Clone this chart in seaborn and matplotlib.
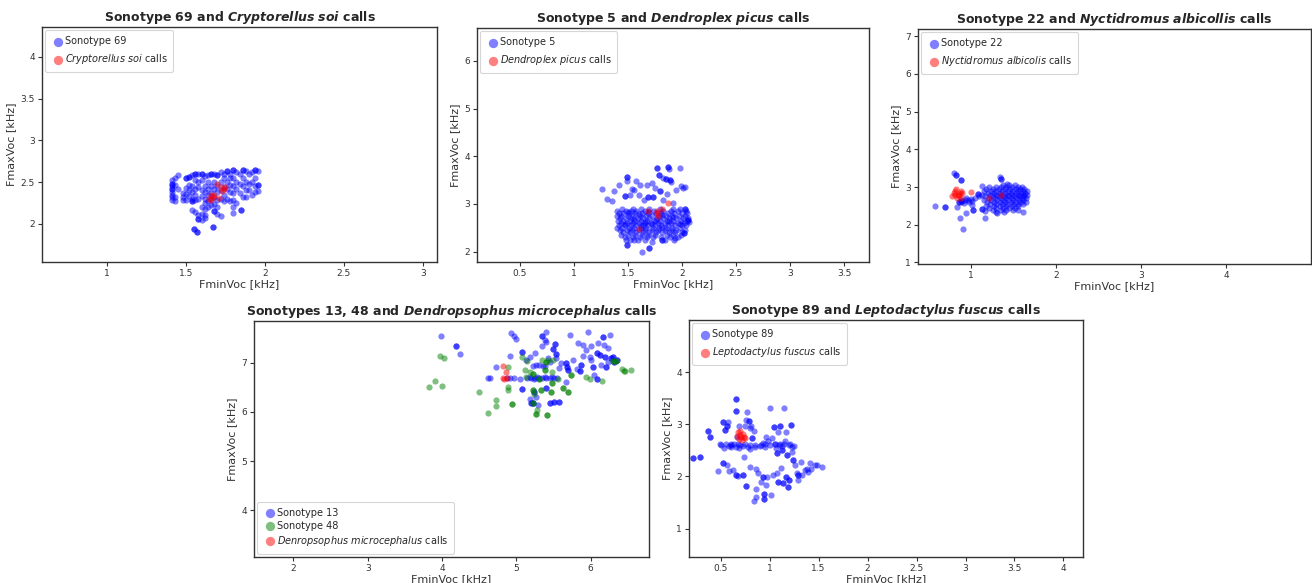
import numpy as np
import matplotlib
matplotlib.use("Agg")
import matplotlib.pyplot as plt
import seaborn as sns

# ---------------- data (FminVoc, FmaxVoc) in kHz ----------------
sono69 = [
    (1.41, 2.52), (1.41, 2.48), (1.41, 2.48), (1.41, 2.45), (1.41, 2.42), (1.41, 2.42), (1.41, 2.38), (1.41, 2.35), (1.41, 2.32), (1.41, 2.28),
    (1.43, 2.55), (1.43, 2.47), (1.43, 2.32), (1.43, 2.27), (1.45, 2.58), (1.45, 2.42),
    (1.48, 2.37), (1.48, 2.32), (1.48, 2.28), (1.50, 2.55), (1.50, 2.55), (1.50, 2.43), (1.50, 2.36), (1.50, 2.28),
    (1.52, 2.56), (1.52, 2.56), (1.52, 2.47), (1.52, 2.40), (1.52, 2.33),
    (1.54, 2.58), (1.54, 2.45), (1.54, 2.38), (1.54, 2.30), (1.54, 2.27), (1.54, 2.27), (1.54, 2.16),
    (1.56, 2.60), (1.56, 2.60), (1.56, 2.52), (1.56, 2.42), (1.56, 2.35), (1.56, 2.28), (1.56, 2.14),
    (1.58, 2.60), (1.58, 2.50), (1.58, 2.44), (1.58, 2.30), (1.58, 2.10), (1.58, 2.06), (1.58, 2.06),
    (1.60, 2.60), (1.60, 2.60), (1.60, 2.52), (1.60, 2.40), (1.60, 2.33), (1.60, 2.20), (1.60, 2.12), (1.60, 2.05),
    (1.62, 2.57), (1.62, 2.45), (1.62, 2.38), (1.62, 2.30), (1.62, 2.25), (1.62, 2.18), (1.62, 2.10), (1.62, 2.07),
    (1.64, 2.58), (1.64, 2.50), (1.64, 2.42), (1.64, 2.35), (1.64, 2.27), (1.64, 2.20),
    (1.66, 2.60), (1.66, 2.60), (1.66, 2.45), (1.66, 2.37), (1.66, 2.30), (1.66, 2.22),
    (1.68, 2.60), (1.68, 2.50), (1.68, 2.42), (1.68, 2.32), (1.68, 2.24), (1.68, 2.15), (1.68, 2.15),
    (1.70, 2.58), (1.70, 2.58), (1.70, 2.45), (1.70, 2.38), (1.70, 2.28), (1.70, 2.20), (1.70, 2.12),
    (1.72, 2.62), (1.72, 2.50), (1.72, 2.40), (1.72, 2.30), (1.72, 2.09),
    (1.74, 2.60), (1.74, 2.55), (1.74, 2.44), (1.74, 2.35), (1.74, 2.27),
    (1.76, 2.63), (1.76, 2.63), (1.76, 2.50), (1.76, 2.42), (1.76, 2.30),
    (1.78, 2.60), (1.78, 2.55), (1.78, 2.47), (1.78, 2.38), (1.78, 2.27),
    (1.80, 2.65), (1.80, 2.65), (1.80, 2.55), (1.80, 2.45), (1.80, 2.37), (1.80, 2.28), (1.80, 2.20), (1.80, 2.13),
    (1.82, 2.62), (1.82, 2.50), (1.82, 2.42), (1.82, 2.25), (1.84, 2.60), (1.84, 2.48), (1.84, 2.37),
    (1.86, 2.65), (1.86, 2.65), (1.86, 2.55), (1.86, 2.45), (1.86, 2.32), (1.88, 2.63), (1.88, 2.50), (1.88, 2.40), (1.88, 2.32),
    (1.90, 2.60), (1.90, 2.48), (1.90, 2.40), (1.92, 2.62), (1.92, 2.50), (1.92, 2.35),
    (1.94, 2.65), (1.94, 2.65), (1.94, 2.55), (1.94, 2.45), (1.94, 2.38), (1.96, 2.63), (1.96, 2.46), (1.96, 2.46), (1.96, 2.39),
    (1.55, 1.94), (1.55, 1.94), (1.57, 1.90), (1.57, 1.90), (1.67, 1.96), (1.67, 1.96), (1.85, 2.17), (1.85, 2.17),
]
cryptorellus = [
    (1.70, 2.48), (1.72, 2.44), (1.74, 2.42), (1.73, 2.39), (1.75, 2.44), (1.66, 2.35),
    (1.67, 2.32), (1.65, 2.30), (1.68, 2.34), (1.71, 2.31), (1.66, 2.29),
]

sono5 = [
    (1.26, 3.31), (1.31, 3.10), (1.35, 3.05), (1.37, 3.28), (1.42, 3.40), (1.49, 3.56), (1.49, 3.56), (1.49, 3.47),
    (1.47, 3.17), (1.47, 3.17), (1.52, 3.19), (1.54, 3.31), (1.56, 3.29), (1.58, 3.47), (1.60, 3.19), (1.61, 3.40),
    (1.65, 3.08), (1.68, 3.40), (1.69, 3.15), (1.69, 3.15), (1.72, 3.43), (1.73, 3.14), (1.73, 3.14), (1.75, 3.33),
    (1.77, 3.75), (1.77, 3.75), (1.79, 3.61), (1.79, 3.61), (1.80, 3.28), (1.80, 3.28), (1.83, 3.55), (1.85, 3.52),
    (1.85, 3.52), (1.87, 3.77), (1.87, 3.77), (1.88, 3.73), (1.89, 3.50), (1.89, 3.50), (1.90, 3.45), (1.92, 3.01),
    (1.95, 3.29), (1.98, 3.75), (1.99, 3.38), (2.01, 3.33), (2.03, 3.36), (1.86, 3.21), (1.83, 3.08),
    (2.03, 2.89), (2.03, 2.89), (2.02, 2.38), (2.02, 2.38), (2.06, 2.66), (2.06, 2.66), (2.07, 2.62),
    (1.49, 2.14), (1.49, 2.14), (1.63, 2.00), (1.70, 2.07), (1.70, 2.07), (1.72, 2.21), (1.82, 2.24), (1.82, 2.24),
    (1.56, 2.24), (1.48, 2.24), (1.94, 2.28),
    (1.45, 2.90), (1.55, 2.90), (1.62, 2.90), (1.70, 2.90), (1.80, 2.90), (1.92, 2.90), (1.98, 2.90),
    (1.40, 2.85), (1.48, 2.85), (1.53, 2.85), (1.58, 2.85), (1.66, 2.85), (1.74, 2.85), (1.83, 2.85), (1.90, 2.85), (1.96, 2.85), (2.04, 2.85),
    (1.42, 2.80), (1.46, 2.80), (1.51, 2.80), (1.57, 2.80), (1.63, 2.80), (1.69, 2.80), (1.76, 2.80), (1.81, 2.80), (1.87, 2.80), (1.93, 2.80), (2.00, 2.80), (2.05, 2.80),
    (1.40, 2.75), (1.44, 2.75), (1.50, 2.75), (1.55, 2.75), (1.61, 2.75), (1.67, 2.75), (1.72, 2.75), (1.79, 2.75), (1.85, 2.75), (1.91, 2.75), (1.97, 2.75), (2.03, 2.75),
    (1.43, 2.70), (1.48, 2.70), (1.53, 2.70), (1.59, 2.70), (1.64, 2.70), (1.70, 2.70), (1.77, 2.70), (1.83, 2.70), (1.88, 2.70), (1.95, 2.70), (2.01, 2.70), (2.06, 2.70),
    (1.41, 2.65), (1.46, 2.65), (1.52, 2.65), (1.57, 2.65), (1.62, 2.65), (1.68, 2.65), (1.74, 2.65), (1.80, 2.65), (1.86, 2.65), (1.92, 2.65), (1.99, 2.65), (2.05, 2.65),
    (1.44, 2.60), (1.49, 2.60), (1.55, 2.60), (1.60, 2.60), (1.66, 2.60), (1.71, 2.60), (1.78, 2.60), (1.84, 2.60), (1.90, 2.60), (1.96, 2.60), (2.02, 2.60),
    (1.42, 2.55), (1.47, 2.55), (1.53, 2.55), (1.58, 2.55), (1.64, 2.55), (1.69, 2.55), (1.75, 2.55), (1.81, 2.55), (1.87, 2.55), (1.94, 2.55), (2.00, 2.55), (2.04, 2.55),
    (1.40, 2.50), (1.45, 2.50), (1.51, 2.50), (1.56, 2.50), (1.62, 2.50), (1.67, 2.50), (1.73, 2.50), (1.79, 2.50), (1.85, 2.50), (1.91, 2.50), (1.98, 2.50),
    (1.43, 2.45), (1.49, 2.45), (1.54, 2.45), (1.60, 2.45), (1.66, 2.45), (1.72, 2.45), (1.78, 2.45), (1.84, 2.45), (1.90, 2.45), (1.95, 2.45), (2.03, 2.45),
    (1.46, 2.40), (1.52, 2.40), (1.58, 2.40), (1.64, 2.40), (1.70, 2.40), (1.76, 2.40), (1.82, 2.40), (1.88, 2.40), (1.94, 2.40), (2.00, 2.40),
    (1.44, 2.35), (1.50, 2.35), (1.57, 2.35), (1.63, 2.35), (1.69, 2.35), (1.75, 2.35), (1.86, 2.35), (1.92, 2.35), (1.99, 2.35),
    (1.47, 2.30), (1.55, 2.30), (1.61, 2.30), (1.68, 2.30), (1.73, 2.30), (1.81, 2.30), (1.89, 2.30), (1.96, 2.30),
    (1.52, 2.25), (1.59, 2.25), (1.66, 2.25), (1.84, 2.25), (1.93, 2.25),
    (1.50, 2.82), (1.60, 2.78), (1.70, 2.83), (1.82, 2.77), (1.92, 2.73), (1.56, 2.68), (1.66, 2.62),
    (1.76, 2.67), (1.88, 2.63), (1.98, 2.58), (1.47, 2.58), (1.62, 2.53), (1.72, 2.57), (1.82, 2.52),
]
dendroplex = [(1.60, 2.48), (1.69, 2.85), (1.77, 2.80), (1.78, 2.75), (1.77, 2.85), (1.82, 2.90), (1.87, 3.02)]

sono22 = [
    (0.58, 2.50), (0.70, 2.48), (0.70, 2.48), (0.80, 3.36), (0.83, 3.33), (0.83, 3.33), (0.89, 3.20), (0.89, 3.20),
    (0.87, 2.17), (0.91, 1.89), (0.94, 2.30), (0.86, 2.61), (0.84, 2.48), (0.89, 2.65), (0.95, 2.70), (1.00, 2.68),
    (1.01, 2.52), (1.03, 2.39), (1.03, 2.39), (1.08, 2.81), (1.08, 2.81), (1.13, 3.02), (1.13, 2.43), (1.13, 2.43),
    (1.17, 2.17), (1.17, 2.37), (1.34, 3.27), (1.36, 3.22), (1.36, 3.22), (1.43, 3.09), (1.31, 2.30), (1.62, 2.34), (1.56, 2.40),
    (0.86, 2.61), (0.88, 2.60), (0.90, 2.63), (0.93, 2.65), (0.97, 2.66), (1.02, 2.62), (0.92, 2.58),
    (0.98, 2.60), (1.05, 2.70), (1.10, 2.75),
    (1.38, 3.05), (1.45, 3.05), (1.52, 3.05),
    (1.22, 3.00), (1.30, 3.00), (1.36, 3.00), (1.42, 3.00), (1.49, 3.00), (1.55, 3.00), (1.60, 3.00),
    (1.18, 2.95), (1.26, 2.95), (1.33, 2.95), (1.40, 2.95), (1.46, 2.95), (1.53, 2.95), (1.58, 2.95), (1.63, 2.95),
    (1.15, 2.90), (1.24, 2.90), (1.30, 2.90), (1.37, 2.90), (1.44, 2.90), (1.50, 2.90), (1.56, 2.90), (1.62, 2.90), (1.66, 2.90),
    (1.20, 2.85), (1.27, 2.85), (1.34, 2.85), (1.40, 2.85), (1.47, 2.85), (1.53, 2.85), (1.59, 2.85), (1.64, 2.85),
    (1.13, 2.80), (1.23, 2.80), (1.30, 2.80), (1.36, 2.80), (1.43, 2.80), (1.49, 2.80), (1.55, 2.80), (1.61, 2.80), (1.66, 2.80),
    (1.17, 2.75), (1.26, 2.75), (1.33, 2.75), (1.39, 2.75), (1.45, 2.75), (1.52, 2.75), (1.58, 2.75), (1.63, 2.75),
    (1.21, 2.70), (1.29, 2.70), (1.35, 2.70), (1.41, 2.70), (1.48, 2.70), (1.54, 2.70), (1.60, 2.70), (1.65, 2.70),
    (1.15, 2.65), (1.24, 2.65), (1.31, 2.65), (1.38, 2.65), (1.44, 2.65), (1.50, 2.65), (1.57, 2.65), (1.62, 2.65),
    (1.19, 2.60), (1.27, 2.60), (1.34, 2.60), (1.40, 2.60), (1.47, 2.60), (1.53, 2.60), (1.59, 2.60), (1.65, 2.60),
    (1.23, 2.55), (1.30, 2.55), (1.37, 2.55), (1.43, 2.55), (1.50, 2.55), (1.56, 2.55), (1.62, 2.55),
    (1.18, 2.50), (1.27, 2.50), (1.34, 2.50), (1.41, 2.50), (1.48, 2.50), (1.55, 2.50),
    (1.22, 2.45), (1.30, 2.45), (1.38, 2.45), (1.45, 2.45), (1.52, 2.45),
    (1.26, 2.40), (1.35, 2.40), (1.42, 2.40), (1.50, 2.40), (1.30, 2.35), (1.39, 2.35),
]
nyctidromus = [
    (0.78, 2.75), (0.80, 2.85), (0.82, 2.90), (0.83, 2.95), (0.85, 2.80), (0.86, 2.78), (0.88, 2.72),
    (0.84, 2.70), (0.90, 2.85), (0.89, 2.90), (1.00, 2.88), (1.22, 2.70), (1.36, 2.80), (0.82, 2.78), (0.87, 2.85),
]

sono13 = [
    (3.98, 7.55), (4.19, 7.34), (4.19, 7.34), (4.24, 7.18), (4.62, 6.70), (4.64, 6.70), (4.73, 6.92),
    (4.93, 7.60), (4.97, 7.54), (4.99, 7.48), (4.92, 7.14), (4.87, 6.70), (4.91, 6.70), (4.97, 6.70),
    (5.05, 6.67), (5.08, 7.22), (5.08, 7.22), (5.08, 6.46), (5.08, 6.46), (5.13, 7.05), (5.19, 7.12),
    (5.25, 7.19), (5.27, 6.95), (5.15, 6.70), (5.20, 6.70), (5.25, 6.70), (5.30, 6.70), (5.35, 6.70),
    (5.40, 6.70), (5.45, 6.70), (5.50, 6.70), (5.55, 6.70), (5.18, 6.72), (5.28, 6.72), (5.38, 6.72),
    (5.48, 6.72), (5.40, 7.63), (5.34, 7.55), (5.34, 7.55), (5.38, 7.46), (5.34, 7.35), (5.40, 7.43),
    (5.52, 7.39), (5.52, 7.39), (5.49, 7.28), (5.49, 7.28), (5.53, 7.17), (5.53, 7.17), (5.54, 7.09),
    (5.45, 7.02), (5.31, 6.95), (5.36, 6.94), (5.58, 6.90), (5.72, 7.56), (5.67, 6.99), (5.67, 6.99),
    (5.68, 6.92), (5.68, 6.92), (5.69, 6.85), (5.69, 6.85), (5.67, 6.61), (5.76, 7.05), (5.81, 6.88),
    (5.83, 7.41), (5.85, 6.84), (5.85, 6.84), (5.87, 6.95), (5.87, 6.95), (5.90, 7.14), (5.90, 7.36),
    (5.94, 7.26), (5.96, 7.63), (5.99, 7.12), (6.01, 7.05), (6.03, 6.92), (6.03, 6.92), (6.05, 6.76),
    (6.08, 6.68), (6.08, 6.68), (6.08, 7.19), (6.08, 7.19), (6.12, 7.16), (6.12, 7.16), (6.17, 7.53),
    (6.17, 7.53), (6.18, 7.36), (6.19, 7.12), (6.19, 7.12), (6.21, 6.92), (6.21, 6.92), (6.24, 7.02),
    (6.26, 7.56), (6.28, 7.09), (6.28, 7.09), (6.30, 7.12), (6.30, 7.12), (6.32, 7.02), (6.32, 7.02),
    (6.35, 7.05), (6.35, 7.05), (5.22, 6.94), (5.18, 6.27), (5.20, 6.19), (5.20, 6.19), (5.22, 6.19),
    (5.22, 6.19), (5.27, 6.31), (5.29, 6.15), (5.24, 6.41), (5.24, 6.41), (5.40, 6.49), (5.40, 6.49),
    (5.45, 6.19), (5.45, 6.19), (5.51, 6.21), (5.51, 6.21), (5.57, 6.21), (5.57, 6.21), (5.24, 6.68),
    (5.38, 6.94), (5.43, 7.09), (5.60, 7.00), (6.10, 7.40), (6.23, 7.30), (6.00, 7.35), (6.14, 6.95),
]
sono48 = [
    (3.82, 6.51), (3.91, 6.63), (3.97, 7.13), (4.03, 7.09), (4.00, 6.52), (4.50, 6.40), (4.73, 6.25),
    (4.73, 6.12), (4.62, 5.97), (4.89, 6.92), (4.89, 6.51), (4.89, 6.44), (4.94, 6.16), (4.94, 6.16),
    (5.07, 7.12), (5.11, 6.85), (5.13, 6.71), (5.15, 7.03), (5.19, 6.82), (5.22, 6.78), (5.22, 6.78),
    (5.22, 6.44), (5.22, 6.44), (5.22, 6.19), (5.22, 6.19), (5.24, 6.37), (5.26, 5.95), (5.26, 5.95),
    (5.28, 6.04), (5.31, 6.68), (5.31, 6.68), (5.33, 6.44), (5.33, 6.44), (5.35, 7.05), (5.38, 6.85),
    (5.38, 6.85), (5.40, 7.02), (5.40, 7.02), (5.42, 7.05), (5.41, 5.93), (5.41, 5.93), (5.47, 6.41),
    (5.47, 6.41), (5.48, 6.58), (5.48, 6.58), (5.48, 6.82), (5.49, 7.05), (5.56, 6.68), (5.63, 6.49),
    (5.63, 6.49), (5.69, 6.40), (5.69, 6.40), (5.74, 6.76), (5.74, 6.76), (5.94, 6.71), (5.99, 6.67),
    (6.15, 6.63), (6.30, 7.03), (6.30, 7.03), (6.34, 7.03), (6.34, 7.03), (6.42, 6.88), (6.46, 6.83),
    (6.54, 6.85), (6.45, 6.83),
]
dendropsophus = [(4.82, 6.94), (4.86, 6.82), (4.82, 6.70), (4.84, 6.67), (4.87, 6.70)]

sono89 = [
    (0.22, 2.35), (0.22, 2.35), (0.29, 2.37), (0.29, 2.37), (0.37, 2.87), (0.37, 2.87), (0.39, 2.75), (0.39, 2.75),
    (0.47, 2.10), (0.49, 2.63), (0.52, 2.25), (0.52, 2.25), (0.52, 3.04), (0.52, 3.04), (0.53, 2.54), (0.54, 2.89),
    (0.54, 2.89), (0.56, 2.96), (0.56, 2.96), (0.56, 2.22), (0.57, 3.04), (0.58, 2.10),
    (0.60, 2.57), (0.61, 2.63), (0.63, 2.12), (0.66, 3.49), (0.66, 3.49), (0.66, 3.26), (0.66, 3.26), (0.66, 2.57),
    (0.66, 2.03), (0.66, 2.03), (0.67, 2.76), (0.68, 2.00), (0.69, 2.96), (0.69, 2.54), (0.73, 2.03), (0.73, 2.03),
    (0.74, 2.38), (0.75, 2.96), (0.76, 1.81), (0.76, 1.81), (0.76, 3.08), (0.77, 3.24), (0.78, 2.57), (0.79, 3.06),
    (0.79, 3.06), (0.80, 2.53), (0.80, 2.92), (0.80, 2.19), (0.81, 2.96), (0.82, 2.74), (0.82, 2.74), (0.84, 2.87),
    (0.85, 2.57), (0.84, 1.53), (0.86, 1.61), (0.86, 2.15), (0.86, 1.76), (0.88, 2.06), (0.91, 2.60), (0.91, 1.90),
    (0.93, 1.99), (0.93, 1.99), (0.94, 1.67), (0.94, 1.67), (0.94, 1.56), (0.94, 1.56), (0.95, 2.57), (0.96, 2.76),
    (0.96, 1.83), (0.97, 1.99), (0.98, 2.67), (1.00, 3.31), (1.01, 1.65), (1.02, 2.73), (1.03, 2.03), (1.04, 2.94),
    (1.04, 2.94), (1.05, 2.63), (1.06, 2.54), (1.07, 2.06), (1.07, 2.44), (1.07, 2.44), (1.08, 1.90), (1.08, 1.90),
    (1.08, 2.86), (1.11, 2.96), (1.11, 2.96), (1.11, 2.63), (1.12, 2.17), (1.13, 2.51), (1.13, 2.51), (1.14, 1.87),
    (1.14, 1.87), (1.15, 3.31), (1.16, 2.67), (1.17, 1.99), (1.17, 1.99), (1.17, 2.86), (1.18, 2.41), (1.18, 2.41),
    (1.19, 1.80), (1.19, 1.80), (1.20, 1.93), (1.20, 1.93), (1.21, 2.63), (1.22, 2.99), (1.22, 2.99), (1.23, 2.57),
    (1.23, 2.47), (1.24, 2.31), (1.24, 2.31), (1.26, 2.22), (1.28, 2.06), (1.29, 2.03), (1.29, 2.03), (1.29, 1.93),
    (1.32, 2.28), (1.33, 2.03), (1.36, 2.12), (1.38, 2.15), (1.39, 2.09), (1.41, 2.25), (1.42, 2.15), (1.46, 2.22),
    (1.53, 2.19), (1.48, 2.22),
    (0.50, 2.60), (0.55, 2.62), (0.60, 2.60), (0.64, 2.63), (0.70, 2.60), (0.75, 2.62), (0.80, 2.60),
    (0.85, 2.61), (0.90, 2.58), (0.95, 2.62), (1.00, 2.60), (1.05, 2.63), (1.10, 2.61), (1.15, 2.62),
    (1.20, 2.60), (1.25, 2.58), (0.58, 2.58), (0.73, 2.58), (0.93, 2.64), (1.13, 2.58), (0.68, 2.62),
]
leptodactylus = [
    (0.67, 2.78), (0.68, 2.85), (0.69, 2.72), (0.70, 2.80), (0.71, 2.75), (0.72, 2.70),
    (0.73, 2.82), (0.74, 2.76), (0.75, 2.73), (0.70, 2.88),
]

# ---------------- style ----------------
sns.set_style("ticks")
plt.rcParams.update({
    "font.family": ["DejaVu Sans"],
    "mathtext.fontset": "custom",
    "mathtext.rm": "DejaVu Sans",
    "mathtext.it": "DejaVu Sans:italic",
    "mathtext.bf": "DejaVu Sans:italic:bold",
    "axes.edgecolor": "#333333",
    "axes.linewidth": 1.0,
    "xtick.color": "#333333",
    "ytick.color": "#333333",
    "axes.labelcolor": "#333333",
})

W, H = 1312, 583
fig = plt.figure(figsize=(W / 100, H / 100), dpi=100)


def rect(l, r, t, b):
    return [l / W, (H - b) / H, (r - l) / W, (b - t) / H]


def panel(box, series, title, xlim, ylim, xticks, yticks, loc, lspace):
    ax = fig.add_axes(rect(*box))
    for pts, color, label in series:
        arr = np.array(pts)
        sns.scatterplot(x=arr[:, 0], y=arr[:, 1], color=color, alpha=0.5, s=20,
                        linewidth=0, label=label, ax=ax)
    ax.set_xlim(*xlim)
    ax.set_ylim(*ylim)
    ax.set_xticks(xticks)
    ax.set_yticks(yticks)
    ax.set_xticklabels([f"{t:g}" for t in xticks])
    ax.set_yticklabels([f"{t:g}" for t in yticks])
    ax.tick_params(labelsize=6.5, length=3, width=0.8, pad=2)
    ax.set_xlabel("FminVoc [kHz]", fontsize=8, labelpad=1)
    ax.set_ylabel("FmaxVoc [kHz]", fontsize=8, labelpad=3)
    ax.set_title(title, fontsize=9, fontweight="bold", pad=4)
    leg = ax.legend(loc=loc, fontsize=7, markerscale=1.5, handlelength=1.4,
                    handletextpad=0.0, labelspacing=lspace, borderpad=0.6,
                    borderaxespad=0.35, frameon=True, fancybox=True)
    leg.get_frame().set_edgecolor("#cccccc")
    leg.get_frame().set_linewidth(0.8)
    for sp in ax.spines.values():
        sp.set_visible(True)
    return ax


BLUE, RED, GREEN = "blue", "red", "green"

panel((42, 437, 27, 262),
      [(sono69, BLUE, "Sonotype 69"), (cryptorellus, RED, r"$\mathit{Cryptorellus\ soi}$ calls")],
      r"Sonotype 69 and $\mathbf{Cryptorellus\ soi}$ calls",
      (0.59, 3.09), (1.54, 4.36), [1, 1.5, 2, 2.5, 3], [2, 2.5, 3, 3.5, 4], "upper left", 0.6)

panel((477, 869, 28, 262),
      [(sono5, BLUE, "Sonotype 5"), (dendroplex, RED, r"$\mathit{Dendroplex\ picus}$ calls")],
      r"Sonotype 5 and $\mathbf{Dendroplex\ picus}$ calls",
      (0.106, 3.73), (1.78, 6.69), [0.5, 1, 1.5, 2, 2.5, 3, 3.5], [2, 3, 4, 5, 6], "upper left", 0.6)

panel((918, 1311, 29, 264),
      [(sono22, BLUE, "Sonotype 22"), (nyctidromus, RED, r"$\mathit{Nyctidromus\ albicolis}$ calls")],
      r"Sonotype 22 and $\mathbf{Nyctidromus\ albicollis}$ calls",
      (0.38, 5.0), (0.96, 7.19), [1, 2, 3, 4], [1, 2, 3, 4, 5, 6, 7], "upper left", 0.6)

panel((254, 649, 321, 557),
      [(sono13, BLUE, "Sonotype 13"), (sono48, GREEN, "Sonotype 48"),
       (dendropsophus, RED, r"$\mathit{Denropsophus\ microcephalus}$ calls")],
      r"Sonotypes 13, 48 and $\mathbf{Dendropsophus\ microcephalus}$ calls",
      (1.47, 6.785), (3.05, 7.85), [2, 3, 4, 5, 6], [4, 5, 6, 7], "lower left", 0.32)

panel((689, 1083, 320, 557),
      [(sono89, BLUE, "Sonotype 89"), (leptodactylus, RED, r"$\mathit{Leptodactylus\ fuscus}$ calls")],
      r"Sonotype 89 and $\mathbf{Leptodactylus\ fuscus}$ calls",
      (0.176, 4.2), (0.455, 5.0), [0.5, 1, 1.5, 2, 2.5, 3, 3.5, 4], [1, 2, 3, 4], "upper left", 0.6)

fig.savefig("out.png", dpi=100)
